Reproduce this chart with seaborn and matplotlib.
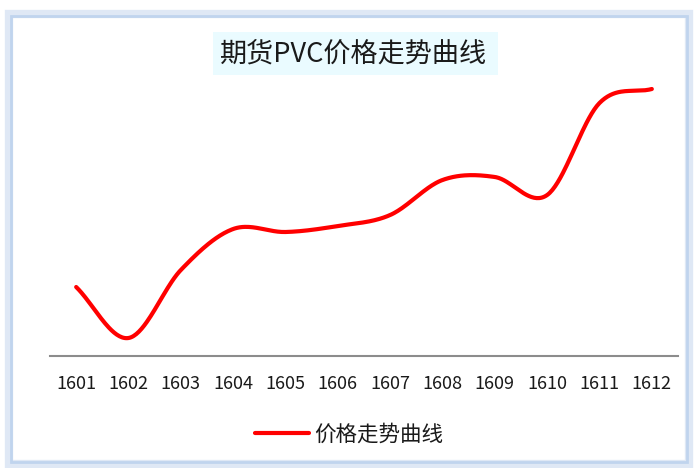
import numpy as np
import pandas as pd
import matplotlib
matplotlib.use("Agg")
import matplotlib.pyplot as plt
from matplotlib.patches import Rectangle
import seaborn as sns

# ---- data ----
months = ["1601", "1602", "1603", "1604", "1605", "1606",
          "1607", "1608", "1609", "1610", "1611", "1612"]
prices = [5190, 4680, 5360, 5770, 5740, 5800, 5910, 6260, 6290, 6110, 7030, 7170]
series_name = "价格走势曲线"
title = "期货PVC价格走势曲线"

sns.set_theme(style="white")
plt.rcParams["font.family"] = ["Noto Sans CJK SC", "DejaVu Sans"]

# Excel-style smoothed line (Catmull-Rom Bezier through the data points)
def smooth(xs, ys, n=40):
    P = np.column_stack([xs, ys]).astype(float)
    Pext = np.vstack([2 * P[0] - P[1], P, 2 * P[-1] - P[-2]])
    out = []
    for i in range(len(P) - 1):
        p0, p1, p2, p3 = Pext[i], Pext[i + 1], Pext[i + 2], Pext[i + 3]
        c1 = p1 + (p2 - p0) / 6.0
        c2 = p2 - (p3 - p1) / 6.0
        t = np.linspace(0, 1, n, endpoint=(i == len(P) - 2))[:, None]
        pts = ((1 - t) ** 3) * p1 + 3 * ((1 - t) ** 2) * t * c1 + 3 * (1 - t) * t ** 2 * c2 + t ** 3 * p2
        out.append(pts)
    out = np.vstack(out)
    return out[:, 0], out[:, 1]

xpos = np.arange(len(months))
sx, sy = smooth(xpos, prices)
df = pd.DataFrame({"x": sx, "price": sy, "series": series_name})

W, H = 694, 468
fig = plt.figure(figsize=(W / 100, H / 100), dpi=100)
fig.patch.set_facecolor("white")

# chart frame
frame_outer = Rectangle((9 / W, 1 - 464 / H), 680 / W, 450 / H, transform=fig.transFigure,
                        facecolor="none", edgecolor="#dfe8f5", linewidth=6, zorder=-2)
frame_inner = Rectangle((11 / W, 1 - 462 / H), 676 / W, 446 / H, transform=fig.transFigure,
                        facecolor="none", edgecolor="#c0d4ee", linewidth=2, zorder=-2)
fig.patches.extend([frame_outer, frame_inner])

ax = fig.add_axes([50 / W, 1 - 356 / H, 628 / W, 280 / H])
ax.set_zorder(3)
ax.set_facecolor("none")
sns.lineplot(data=df, x="x", y="price", hue="series", palette=["#ff0000"],
             linewidth=3, ax=ax, legend=True, sort=False, estimator=None)

ax.set_xlim(-0.5, len(months) - 0.5)
ax.set_ylim(4500, 7300)
ax.set_xticks(xpos)
ax.set_xticklabels(months, fontsize=13, color="#1a1a1a")
ax.tick_params(axis="x", length=0, pad=14)
ax.set_yticks([])
ax.set_xlabel("")
ax.set_ylabel("")
for s in ["left", "right", "top"]:
    ax.spines[s].set_visible(False)
ax.spines["bottom"].set_color("#8c8c8c")
ax.spines["bottom"].set_linewidth(1.5)

# legend at the bottom
handles, labels = ax.get_legend_handles_labels()
ax.get_legend().remove()
fig.legend(handles, labels, loc="center", bbox_to_anchor=(349 / W, 1 - 435 / H),
           frameon=False, fontsize=15.5, handlelength=2.5, handletextpad=0.25,
           labelcolor="#1a1a1a")

# title with light box
fig.patches.append(Rectangle((213 / W, 1 - 75 / H), 285 / W, 43 / H, transform=fig.transFigure,
                             facecolor="#eafbff", edgecolor="none", zorder=1))
fig.text(354 / W, 1 - 54 / H, title, ha="center", va="center", fontsize=19.5,
         color="#1a1a1a", zorder=2)

fig.savefig("out.png", dpi=100)
